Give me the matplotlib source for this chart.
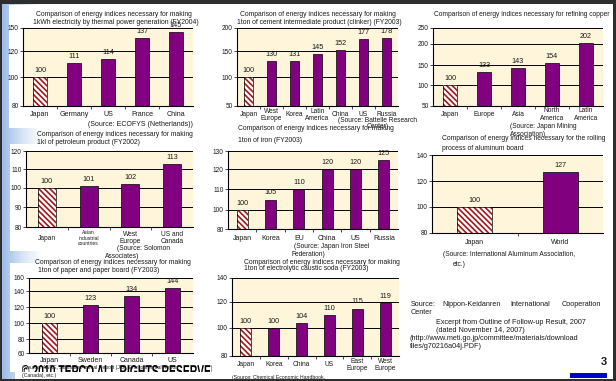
import numpy as np
import matplotlib
matplotlib.use("Agg")
import matplotlib.pyplot as plt
from matplotlib.patches import Rectangle, PathPatch
from matplotlib.textpath import TextPath
from matplotlib.font_manager import FontProperties
from matplotlib.transforms import Affine2D
from matplotlib.colors import LinearSegmentedColormap

plt.rcParams["font.family"] = ["Liberation Sans", "DejaVu Sans"]
plt.rcParams["hatch.linewidth"] = 1.2

# ---- data -------------------------------------------------------------
thermal_cats = ["Japan", "Germany", "US", "France", "China"]
thermal_vals = [100, 111, 114, 137, 145]
thermal_ticks = [80, 100, 120, 150]

cement_cats = ["Japan", "West\nEurope", "Korea", "Latin\nAmerica", "China", "US", "Russia"]
cement_vals = [100, 130, 131, 145, 152, 177, 178]
cement_ticks = [50, 100, 150, 200]

copper_cats = ["Japan", "Europe", "Asia", "North\nAmerica", "Latin\nAmerica"]
copper_vals = [100, 133, 143, 154, 202]
copper_ticks = [50, 100, 150, 200, 250]

petro_cats = ["Japan", "Asian\nindustrial\ncountries", "West\nEurope", "US and\nCanada"]
petro_vals = [100, 101, 102, 113]
petro_ticks = [80, 90, 100, 110, 120]

iron_cats = ["Japan", "Korea", "EU", "China", "US", "Russia"]
iron_vals = [100, 105, 110, 120, 120, 125]
iron_ticks = [80, 100, 110, 120, 130]

alu_cats = ["Japan", "World"]
alu_vals = [100, 127]
alu_ticks = [80, 100, 120, 140]

paper_cats = ["Japan", "Sweden", "Canada", "US"]
paper_vals = [100, 123, 134, 144]
paper_ticks = [60, 80, 100, 120, 140, 160]

soda_cats = ["Japan", "Korea", "China", "US", "East\nEurope", "West\nEurope"]
soda_vals = [100, 100, 104, 110, 115, 119]
soda_ticks = [80, 100, 120, 140]

# ---- figure & pixel helpers --------------------------------------------
W, H = 616, 381
fig = plt.figure(figsize=(W / 100, H / 100), dpi=100)
fig.patch.set_facecolor("white")

bg = fig.add_axes([0, 0, 1, 1], zorder=-10)
bg.set_xlim(0, W)
bg.set_ylim(H, 0)
bg.axis("off")

PURPLE = "#800080"
CREAM = "#FFF5DA"
STRIPE = "#A3171B"
TXT = "#1a1a1a"
TITLE = 4.9
SRC = 4.8


def rect(x0, y0, x1, y1, color, z=1):
    bg.add_patch(Rectangle((x0, y0), x1 - x0, y1 - y0, facecolor=color,
                           edgecolor="none", zorder=z))


def txt(x, y, s, size=TITLE, ha="left", z=5, **kw):
    bg.text(x, y, s, fontsize=size, ha=ha, va="center", color=TXT, zorder=z, **kw)


# slide background: blue fade on the left edge, dark frame
grad = np.linspace(0, 1, 200)[None, :]
fade = LinearSegmentedColormap.from_list("fade", ["#9CBBE6", "#D6E3F4", "#FFFFFF"])
bg.imshow(grad, extent=(2, 42, H, 0), aspect="auto", cmap=fade, zorder=0)

# white chart boxes
rect(9, 5, 206, 128, "white", 1)
rect(10, 144, 206, 251, "white", 1)
rect(10, 263, 208, 372, "white", 1)

rect(0, 0, W, 4, "#2e2e2e", 8)
rect(0, 0, 2, H, "#2e2e2e", 8)
rect(613, 0, W, H, "#2e2e2e", 8)
rect(0, 379, W, H, "#2e2e2e", 8)


def panel(box, ticks, tick_px, cats, vals, width=0.42, label_off=9, label_size=5.0):
    x0, x1, y0, y1 = box
    ax = fig.add_axes([x0 / W, 1 - y1 / H, (x1 - x0) / W, (y1 - y0) / H])
    tv = np.asarray(ticks, float)
    fr = (y1 - np.asarray(tick_px, float)) / (y1 - y0)
    ax.set_yscale("function",
                  functions=(lambda v: np.interp(v, tv, fr),
                             lambda f: np.interp(f, fr, tv)))
    n = len(cats)
    base = ticks[0]
    ax.set_xlim(-0.5, n - 0.5)
    ax.set_ylim(ticks[0], ticks[-1])
    ax.set_facecolor(CREAM)

    xs = np.arange(n)
    heights = np.asarray(vals, float) - base
    # Japan: hatched reference bar
    ax.bar(xs[0], heights[0], bottom=base, width=width, facecolor="white",
           edgecolor=STRIPE, hatch="\\" * 6, linewidth=0, zorder=2)
    ax.bar(xs[0], heights[0], bottom=base, width=width, fill=False,
           edgecolor="black", linewidth=0.5, zorder=3)
    ax.bar(xs[1:], heights[1:], bottom=base, width=width, color=PURPLE,
           edgecolor="black", linewidth=0.5, zorder=2)
    for x, v in zip(xs, vals):
        ax.annotate(str(v), (x, v), xytext=(0, 2.2), textcoords="offset points",
                    ha="center", va="bottom", fontsize=5.2, color=TXT)

    ax.set_yticks(ticks)
    ax.set_yticklabels([str(t) for t in ticks])
    ax.yaxis.grid(True, color="black", linewidth=0.7)
    ax.set_axisbelow(True)
    ax.tick_params(axis="y", length=2, width=0.5, pad=1, labelsize=4.7,
                   labelcolor=TXT)

    ax.set_xticks(xs)
    ax.set_xticklabels(cats, linespacing=1.05)
    ax.set_xticks(xs[:-1] + 0.5, minor=True)
    ax.tick_params(axis="x", which="major", length=0, pad=label_off * 0.72,
                   labelsize=label_size, labelcolor=TXT)
    ax.tick_params(axis="x", which="minor", length=2, width=0.5)
    for lab in ax.get_xticklabels():
        lab.set_va("center")

    for side in ("top", "right"):
        ax.spines[side].set_visible(False)
    for side in ("left", "bottom"):
        ax.spines[side].set_linewidth(0.8)
        ax.spines[side].set_color("black")
    return ax


# ---- the eight comparisons ---------------------------------------------
panel((23, 193, 28, 106), thermal_ticks, [106, 77, 51, 28], thermal_cats, thermal_vals,
      width=0.42, label_off=8, label_size=5.1)
txt(114, 15, "Comparison of energy indices necessary for making", ha="center")
txt(116, 22, "1kWh electricity by thermal power generation (FY2004)", ha="center")
txt(88, 124, "(Source: ECOFYS (Netherlands))", size=5.0)

panel((237, 398, 28, 106), cement_ticks, [106, 77, 51, 28], cement_cats, cement_vals,
      width=0.43, label_off=9, label_size=4.8)
txt(318, 15, "Comparison of energy indices necessary for making", ha="center")
txt(319, 22, "1ton of cement intermediate product (clinker) (FY2003)", ha="center")
txt(338, 120, "(Source: Battelle Research", size=SRC)
txt(367, 127, "Center)", size=SRC)

panel((433, 603, 28, 106), copper_ticks, [106, 85, 65, 44, 28], copper_cats, copper_vals,
      width=0.42, label_off=8.5, label_size=4.8)
txt(522, 15, "Comparison of energy indices necessary for refining copper", ha="center",
    size=4.8)
txt(510, 127, "(Source: Japan Mining", size=SRC)
txt(510, 134, "Association)", size=SRC)

ax4 = panel((26, 193, 151, 227), petro_ticks, [227, 207, 188, 169, 151], petro_cats,
            petro_vals, width=0.43, label_off=11, label_size=4.8)
ax4.get_xticklabels()[1].set_fontsize(3.6)
txt(37, 135, "Comparison of energy indices necessary for making")
txt(37, 142, "1kl of petroleum product (FY2002)")
txt(117, 249, "(Source: Solomon", size=SRC)
txt(105, 256, "Associates)", size=SRC)

panel((228, 398, 151, 229), iron_ticks, [229, 210, 189, 169, 151], iron_cats, iron_vals,
      width=0.39, label_off=9)
txt(238, 129, "Comparison of energy indices necessary for making")
txt(238, 141, "1ton of iron (FY2003)")
txt(294, 247, "(Source: Japan Iron Steel", size=SRC)
txt(292, 255, "Federation)", size=SRC)

panel((432, 603, 155, 233), alu_ticks, [233, 207, 181, 155], alu_cats, alu_vals,
      width=0.41, label_off=10)
txt(442, 139, "Comparison of energy indices necessary for the rolling")
txt(442, 148, "process of aluminum board")
txt(443, 255, "(Source: International Aluminum Association,", size=SRC)
txt(453, 264, "etc.)", size=SRC)

panel((29, 193, 278, 353), paper_ticks, [353, 339, 323, 307, 291, 278], paper_cats,
      paper_vals, width=0.39, label_off=7.5)
txt(35, 263, "Comparison of energy indices necessary for making")
txt(38, 270, "1ton of paper and paper board (FY2003)")

panel((232, 399, 278, 356), soda_ticks, [356, 328, 302, 278], soda_cats, soda_vals,
      width=0.39, label_off=9, label_size=4.8)
txt(244, 262, "Comparison of energy indices necessary for making")
txt(244, 268, "1ton of electrolytic caustic soda (FY2003)")

# footer mark, partly covered by the source note box
fp = FontProperties(family="Liberation Sans", weight="bold")
tp = TextPath((0, 0), "\u00a9 2010 TEPCO ALL RIGHTS RESERVED", size=10, prop=fp)
ext = tp.get_extents()
tw, th = 196.0, 12.0
sx, sy = tw / ext.width, th / ext.height
mark = PathPatch(tp, facecolor="black", edgecolor="none", zorder=2,
                 transform=Affine2D().translate(-ext.x0, -ext.y0).scale(sx, -sy)
                 .translate(22, 377) + bg.transData)
bg.add_patch(mark)
rect(212, 250, 408, 379, "white", 3)
rect(15, 372, 212, 379, "white", 3)
txt(22, 368, "(Source: ANRE, Statistics Annual Report (J/6), Environmental Report",
    size=3.7, z=6)
txt(22, 376, "(Canada), etc.)", size=3.7, z=6)
txt(232, 377, "(Source: Chemical Economic Handbook,", size=3.7, z=6)

# notes on the right
for x, w in [(411, "Source:"), (442, "Nippon-Keidanren"), (510, "International"),
             (562, "Cooperation")]:
    txt(x, 304, w, size=5.2)
txt(411, 312, "Center", size=5.2)
txt(436, 322, "Excerpt from Outline of Follow-up Result, 2007", size=5.2)
txt(436, 330, "(dated November 14, 2007)", size=5.2)
txt(410, 338, "(http://www.meti.go.jp/committee/materials/download", size=5.2)
txt(410, 347, "files/g70216a04j.PDF)", size=5.2)

# page number
txt(604, 362, "3", size=8, ha="center", fontweight="bold")
rect(570, 373, 607, 378, "#0000CC", 6)

fig.savefig("out.png", dpi=100, facecolor="white")
